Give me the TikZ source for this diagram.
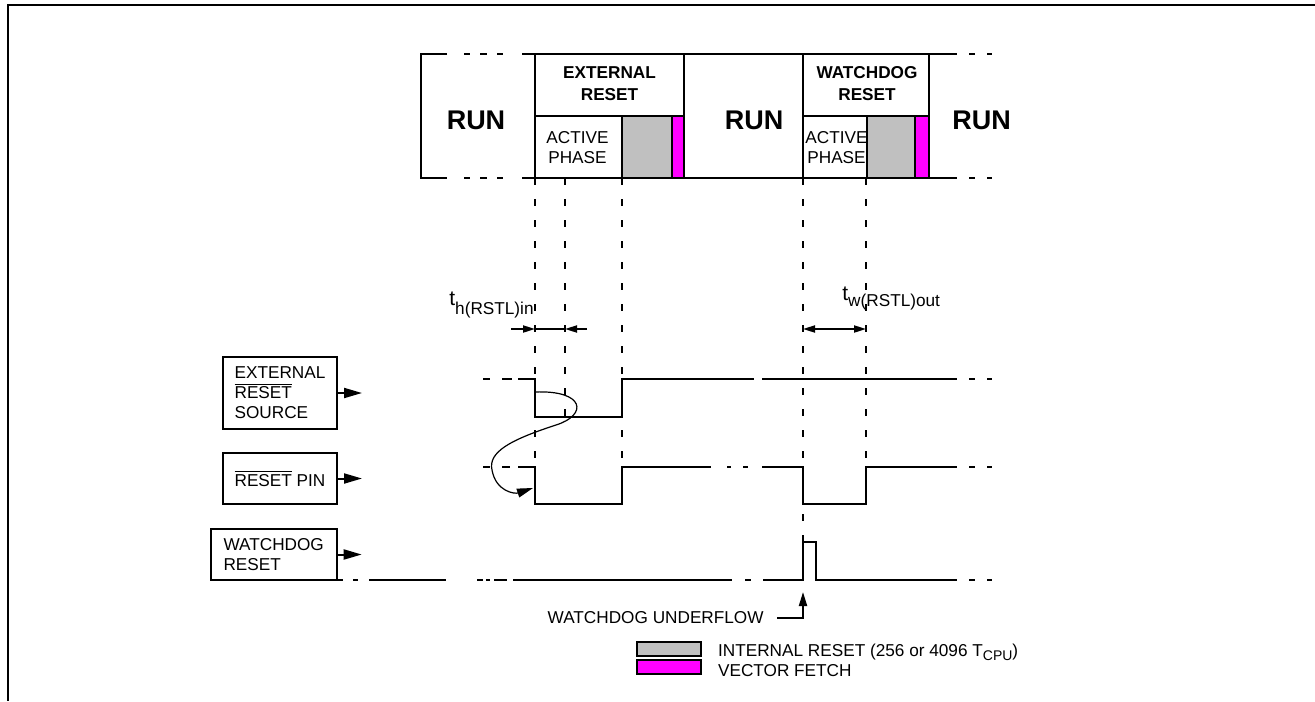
\documentclass[tikz,border=0pt]{standalone}
\usepackage{fontspec}
\setmainfont{Liberation Sans}
\usetikzlibrary{arrows.meta}
\definecolor{irgray}{RGB}{192,192,192}
\definecolor{vfmag}{RGB}{255,0,255}
\newcommand{\ovl}[1]{$\overline{\mbox{#1}}$}

\begin{document}
\begin{tikzpicture}[x=0.5pt,y=-0.5pt,
  sig/.style={line width=1pt},
  guide/.style={line width=1pt,dash pattern=on 3.5pt off 7pt},
  lbl/.style={inner sep=0pt,font=\fontsize{8.6}{10}\selectfont},
  hdr/.style={inner sep=0pt,align=center,font=\bfseries\fontsize{8.6}{10.8}\selectfont},
  run/.style={inner sep=0pt,font=\bfseries\fontsize{13.5}{16}\selectfont},
  sbox/.style={draw,line width=1pt,inner sep=0pt,align=left,font=\fontsize{8.6}{10}\selectfont},
  swatch/.style={draw,line width=1pt,inner sep=0pt,minimum width=32pt,minimum height=7pt},
  tip/.style={-{Triangle[length=9pt,width=5pt]}},
  ttip/.style={-{Triangle[length=6pt,width=3.5pt]}},
  dtip/.style={{Triangle[length=6pt,width=3.5pt]}-{Triangle[length=6pt,width=3.5pt]}}
]
  \useasboundingbox (0,0) rectangle (1315,701);
  \draw[line width=1pt] (1315,5) -- (8,5) -- (8,701);

  \draw[sig,fill=irgray] (622,116) rectangle (672,178);
  \draw[sig,fill=vfmag] (672,116) rectangle (684,178);
  \draw[sig,fill=irgray] (867,116) rectangle (915,178);
  \draw[sig,fill=vfmag] (915,116) rectangle (929,178);
  \draw[sig] (447,54) -- (421,54) -- (421,178) -- (447,178);
  \foreach \y in {54,178} {
    \draw[sig] (464,\y) -- (470,\y) (480,\y) -- (487,\y) (497,\y) -- (503,\y);
    \draw[sig] (522,\y) -- (957,\y);
  }
  \draw[sig] (535,54) -- (535,178) (535,116) -- (684,116) (684,54) -- (684,178);
  \draw[sig] (803,54) -- (803,178) (803,116) -- (929,116) (929,54) -- (929,178);
  \foreach \y in {54,178,379,467,580}
    \draw[sig] (969,\y) -- (975,\y) (987,\y) -- (992,\y);

  \node[run] (run1) at (476,120.5) {RUN};
  \node[run] (run2) at (754,120.5) {RUN};
  \node[run] (run3) at (981.5,120.5) {RUN};
  \node[hdr] (hext) at (609.5,83.5) {EXTERNAL\\RESET};
  \node[hdr] (hwdg) at (867,83.5) {WATCHDOG\\RESET};
  \node[lbl,align=center] (act1) at (577.5,147.5) {ACTIVE\\PHASE};
  \node[lbl,align=center] (act2) at (836.5,147.5) {ACTIVE\\PHASE};

  \draw[guide] (535,178) -- (535,504);
  \draw[guide] (565,178) -- (565,417);
  \draw[guide] (622,178) -- (622,504);
  \draw[guide] (803,178) -- (803,580);
  \draw[guide] (866,178) -- (866,504);

  \node[lbl,anchor=base west] (th) at (449,305)
    {\fontsize{10.5}{12}\selectfont t\raisebox{-4.5pt}{\fontsize{8.6}{10}\selectfont h(RSTL)in}};
  \node[lbl,anchor=base west] (tw) at (842,300)
    {\fontsize{10.5}{12}\selectfont t\raisebox{-3pt}{\fontsize{8.6}{10}\selectfont w(RSTL)out}};
  \draw[sig,ttip] (511,329) -- (535,329);
  \draw[sig] (535,329) -- (565,329);
  \draw[sig,ttip] (587,329) -- (565,329);
  \draw[sig,dtip] (803,329) -- (866,329);

  \node[sbox,minimum width=57pt,minimum height=36pt] (src) at (280,393)
    {EXTERNAL\\\ovl{RESET}\\SOURCE};
  \node[sbox,minimum width=57pt,minimum height=25.5pt] (pin) at (280,478.5)
    {\ovl{RESET} PIN};
  \node[sbox,minimum width=63pt,minimum height=25.5pt] (wdg) at (273.7,554.5)
    {WATCHDOG\\RESET};
  \draw[sig,tip] (src.east) -- ++(24,0);
  \draw[sig,tip] (pin.east) -- ++(24,0);
  \draw[sig,tip] (wdg.east) -- ++(24,0);

  \draw[sig] (483,379) -- (490,379) (502,379) -- (512,379) (518,379) -- (535,379)
    -- (535,417) -- (622,417) -- (622,379) -- (754,379) (762,379) -- (957,379);
  \draw[sig] (483,467) -- (490,467) (502,467) -- (510,467) (518,467) -- (535,467)
    -- (535,504) -- (622,504) -- (622,467) -- (711,467) (727,467) -- (731,467)
    (743,467) -- (748,467) (762,467) -- (803,467) -- (803,504) -- (866,504)
    -- (866,467) -- (957,467);
  \draw[sig] (337,580) -- (343,580) (353,580) -- (358,580) (369,580) -- (446,580)
    (477,580) -- (483,580) (486,580) -- (490,580) (494,580) -- (507,580)
    (513,580) -- (732,580) (745,580) -- (751,580) (763,580) -- (803,580)
    -- (803,542) -- (816,542) -- (816,580) -- (957,580);

  \coordinate (fall) at (535,392);
  \coordinate (pinfall) at (533,488);
  \draw[line width=0.6pt,-{Triangle[length=8pt,width=4.5pt]}] (fall)
    .. controls (585,390) and (588,415) .. (556,425)
    .. controls (510,440) and (488,452) .. (492,470)
    .. controls (496,492) and (515,494) .. (pinfall);

  \node[lbl,anchor=east,inner xsep=6.5pt] (wdu) at (777,618) {WATCHDOG UNDERFLOW};
  \coordinate (uf) at (803,592);
  \draw[sig,-{Triangle[length=7pt,width=4pt]}] (wdu.east) -| (uf);

  \node[swatch,fill=irgray] (swir) at (669,649) {};
  \node[swatch,fill=vfmag] (swvf) at (668.5,666.5) {};
  \node[lbl,anchor=base west] (tir) at (717.7,656.7)
    {INTERNAL RESET (256 or 4096 T\raisebox{-2pt}{\fontsize{7}{8}\selectfont CPU})};
  \node[lbl,anchor=base west] (tvf) at (717.7,676) {VECTOR FETCH};
\end{tikzpicture}
\end{document}
